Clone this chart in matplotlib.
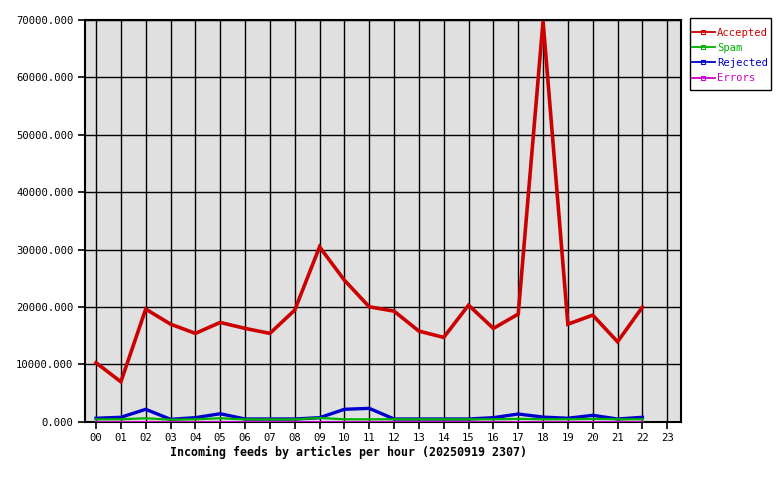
import matplotlib
matplotlib.use("Agg")
import matplotlib.pyplot as plt
from matplotlib.lines import Line2D
from matplotlib.patches import Rectangle

hours = ["00", "01", "02", "03", "04", "05", "06", "07", "08", "09", "10", "11",
         "12", "13", "14", "15", "16", "17", "18", "19", "20", "21", "22", "23"]
accepted = [10270, 6960, 19620, 17000, 15390, 17300, 16260, 15390, 19440, 30460, 24660, 20020,
            19270, 15790, 14690, 20310, 16260, 18750, 69800, 17000, 18570, 13930, 19950]
spam = [400, 420, 600, 350, 420, 600, 400, 400, 400, 650, 420, 420,
        420, 420, 420, 420, 420, 500, 420, 420, 500, 420, 420]
rejected = [600, 770, 2160, 420, 700, 1390, 470, 470, 470, 700, 2160, 2330,
            470, 470, 470, 470, 700, 1340, 800, 600, 1110, 470, 770]
errors = [0] * 23
yticks = [0, 10000, 20000, 30000, 40000, 50000, 60000, 70000]
series = [("Accepted", accepted, "#cc0000", 2.6),
          ("Spam", spam, "#00b000", 1.6),
          ("Rejected", rejected, "#0000cc", 2.4),
          ("Errors", errors, "#cc00cc", 2.2)]

plt.rcParams['font.family'] = ['DejaVu Sans Mono']
fig = plt.figure(figsize=(7.8, 4.8), dpi=100)
ax = fig.add_axes([84.5 / 780, 1 - 421.7 / 480, (680.5 - 84.5) / 780, (421.7 - 20) / 480])
ax.set_facecolor("#e0e0e0")

for name, vals, col, lw in series[::-1]:
    ax.plot(range(len(vals)), vals, color=col, lw=lw, solid_joinstyle='miter', zorder=3)

ax.set_xlim(-0.465, 23.535)
ax.set_ylim(0, 70000)
ax.set_xticks(range(len(hours)))
ax.set_xticklabels(hours)
ax.set_yticks(yticks)
ax.set_yticklabels(["%.3f" % v for v in yticks])
ax.grid(True, color="black", lw=1.0)
ax.set_axisbelow(True)
for s in ax.spines.values():
    s.set_color("black")
    s.set_linewidth(1.5)
ax.tick_params(axis='both', direction='out', length=5, width=1.2, color='black',
               labelsize=7.6, pad=3)

fig.text(349 / 780, 1 - 452 / 480, "Incoming feeds by articles per hour (20250919 2307)",
         ha='center', va='center', fontsize=8.4, fontweight='bold')

# legend frame
fig.add_artist(Rectangle((690 / 780, 1 - 90 / 480), 81 / 780, 72 / 480,
                         transform=fig.transFigure, facecolor='white',
                         edgecolor='black', lw=1.0, zorder=1))
handles = [Line2D([0], [0], color=col, lw=1.3, marker='s', markersize=3,
                  markerfacecolor='none', markeredgecolor=col, markeredgewidth=0.8)
           for name, vals, col, lw in series]
leg = fig.legend(handles, [s[0] for s in series], loc='upper left',
                 bbox_to_anchor=(690 / 780, 1 - 26 / 480), frameon=False,
                 fontsize=7.6, handlelength=2.2, handletextpad=0.2, borderpad=0.15,
                 labelspacing=0.5, borderaxespad=0)
leg.set_zorder(2)
for t, s in zip(leg.get_texts(), series):
    t.set_color(s[2])

fig.savefig("out.png", dpi=100)
